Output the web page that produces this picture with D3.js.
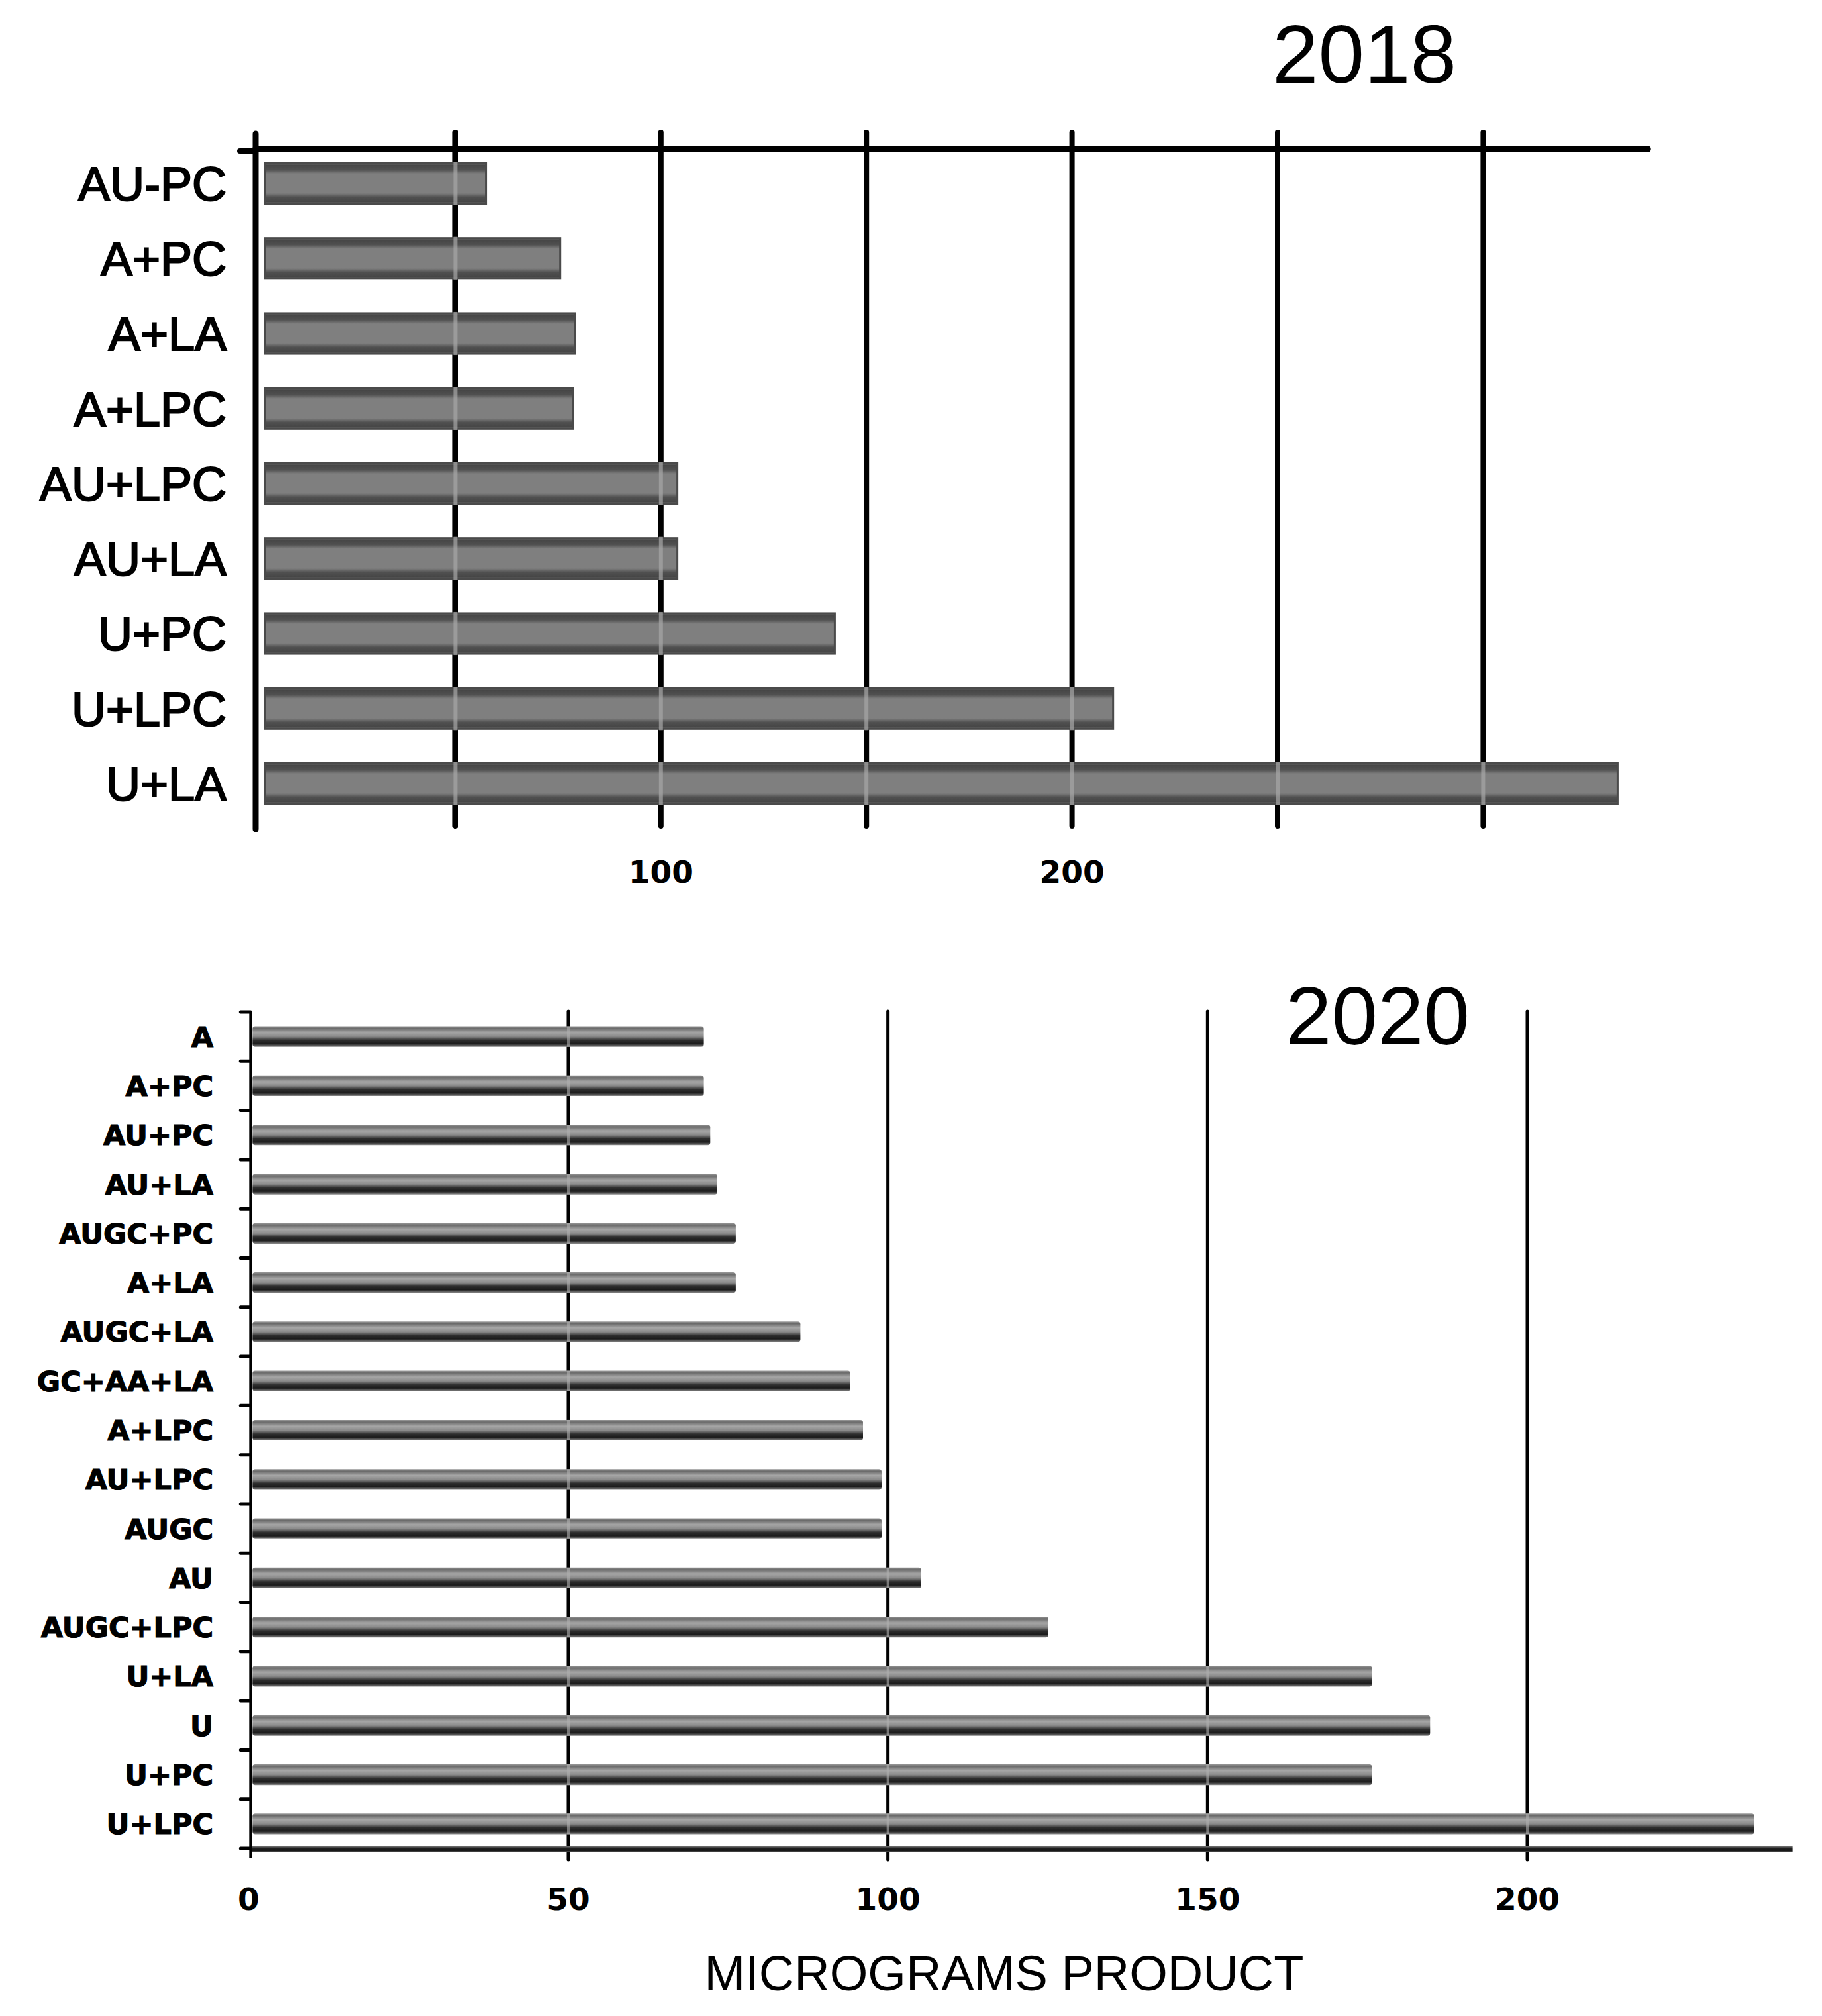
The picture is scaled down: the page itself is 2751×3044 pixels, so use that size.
<!DOCTYPE html>
<html>
<head>
<meta charset="utf-8">
<script src="https://cdn.jsdelivr.net/npm/d3@7"></script>
<style>
  html, body { margin: 0; padding: 0; background: #fff; }
  svg { display: block; }
</style>
</head>
<body>
<script>
// ---------- DATA ----------
const cats2018 = ["AU-PC","A+PC","A+LA","A+LPC","AU+LPC","AU+LA","U+PC","U+LPC","U+LA"];
const vals2018 = [57.6, 75.5, 79.1, 78.6, 104, 104, 142.3, 210, 332.7];
const grid2018 = [50, 100, 150, 200, 250, 300];
const tickLabels2018 = [100, 200];

const cats2020 = ["A","A+PC","AU+PC","AU+LA","AUGC+PC","A+LA","AUGC+LA","GC+AA+LA","A+LPC",
                  "AU+LPC","AUGC","AU","AUGC+LPC","U+LA","U","U+PC","U+LPC"];
const vals2020 = [71.2, 71.2, 72.2, 73.3, 76.2, 76.2, 86.3, 94.1, 96.1,
                  99.0, 99.0, 105.2, 125.1, 175.7, 184.8, 175.7, 235.5];
const grid2020 = [50, 100, 150, 200];
const tickLabels2020 = [0, 50, 100, 150, 200];
const title2018 = "2018", title2020 = "2020", xTitle = "MICROGRAMS PRODUCT";

// ---------- SETUP ----------
const W = 2751, H = 3044;
const svg = d3.select("body").append("svg").attr("width", W).attr("height", H);
svg.append("rect").attr("width", W).attr("height", H).attr("fill", "#fff");

const defs = svg.append("defs");
const g1 = defs.append("linearGradient").attr("id","barTop").attr("x1",0).attr("y1",0).attr("x2",0).attr("y2",1);
[[0,"#707070"],[0.05,"#464646"],[0.16,"#505050"],[0.26,"#7f7f7f"],[0.74,"#7f7f7f"],[0.84,"#505050"],[0.95,"#464646"],[1,"#707070"]]
  .forEach(([o,c]) => g1.append("stop").attr("offset",o).attr("stop-color",c));
const g2 = defs.append("linearGradient").attr("id","barBot").attr("x1",0).attr("y1",0).attr("x2",0).attr("y2",1);
[[0,"#9a9a9a"],[0.1,"#6a6a6a"],[0.3,"#a6a6a6"],[0.5,"#8a8a8a"],[0.68,"#2e2e2e"],[0.85,"#1c1c1c"],[1,"#8a8a8a"]]
  .forEach(([o,c]) => g2.append("stop").attr("offset",o).attr("stop-color",c));
const g3 = defs.append("linearGradient").attr("id","axisBot").attr("x1",0).attr("y1",0).attr("x2",0).attr("y2",1);
[[0,"#777"],[0.3,"#222"],[0.7,"#111"],[1,"#777"]]
  .forEach(([o,c]) => g3.append("stop").attr("offset",o).attr("stop-color",c));

// ---------- 2018 CHART ----------
const xT = d3.scaleLinear().domain([0, 300]).range([377, 2239.4]);
const yT = d3.scalePoint().domain(cats2018).range([277, 1183]);
const barHT = yT.step() * 0.54;
const axisXT = xT(0) + 9;
const barStartT = xT(0) + 23;

const gTop = svg.append("g");
// gridlines
gTop.selectAll(".grid").data(grid2018).join("line")
  .attr("x1", d => xT(d)).attr("x2", d => xT(d))
  .attr("y1", 200).attr("y2", 1247)
  .attr("stroke", "#000").attr("stroke-width", 8).attr("stroke-linecap","round");
// top horizontal line
gTop.append("line").attr("x1", axisXT).attr("x2", xT(340)).attr("y1", 225).attr("y2", 225)
  .attr("stroke", "#000").attr("stroke-width", 10).attr("stroke-linecap","round");
// left axis
gTop.append("line").attr("x1", axisXT).attr("x2", axisXT).attr("y1", 202).attr("y2", 1252)
  .attr("stroke", "#000").attr("stroke-width", 9).attr("stroke-linecap","round");
gTop.append("line").attr("x1", axisXT - 24).attr("x2", axisXT).attr("y1", 228).attr("y2", 228)
  .attr("stroke", "#000").attr("stroke-width", 8).attr("stroke-linecap","round");
// bars
gTop.selectAll(".bar").data(cats2018).join("rect")
  .attr("x", barStartT)
  .attr("y", d => yT(d) - barHT / 2)
  .attr("width", (d, i) => xT(vals2018[i]) - barStartT)
  .attr("height", barHT)
  .attr("fill", "url(#barTop)")
  .attr("stroke", "#4a4a4a").attr("stroke-width", 3);
// light notches where gridlines pass behind bars
cats2018.forEach((c, i) => {
  grid2018.filter(g => g < vals2018[i] - 2).forEach(g => {
    gTop.append("line").attr("x1", xT(g)).attr("x2", xT(g))
      .attr("y1", yT(c) - barHT / 2 - 2).attr("y2", yT(c) + barHT / 2 + 2)
      .attr("stroke", "#a8a8a8").attr("stroke-width", 6).attr("opacity", 0.7);
  });
});
// category labels
gTop.selectAll(".lab").data(cats2018).join("text")
  .attr("x", 342).attr("y", d => yT(d)).attr("dy", "0.36em")
  .attr("text-anchor", "end")
  .attr("font-family", "Liberation Sans, Arial, sans-serif")
  .attr("font-size", 72).attr("fill", "#000")
  .attr("stroke", "#000").attr("stroke-width", 2.2)
  .text(d => d);
// tick labels
gTop.selectAll(".tl").data(tickLabels2018).join("text")
  .attr("x", d => xT(d)).attr("y", 1333)
  .attr("text-anchor", "middle")
  .attr("font-family", "DejaVu Sans, sans-serif").attr("font-weight", "bold")
  .attr("font-size", 47).attr("fill", "#000")
  .text(d => d);
// title
gTop.append("text").attr("x", 2060).attr("y", 125).attr("text-anchor", "middle")
  .attr("font-family", "Liberation Sans, Arial, sans-serif").attr("font-size", 125)
  .attr("fill", "#000").text(title2018);

// ---------- 2020 CHART ----------
const xB = d3.scaleLinear().domain([0, 200]).range([375.3, 2306]);
const yB = d3.scaleBand().domain(cats2020).range([1528, 2791]).padding(0);
const barHB = yB.bandwidth() * 0.42;
const axisXB = xB(0) + 3;
const barStartB = xB(0) + 6;

const gBot = svg.append("g");
// gridlines
gBot.selectAll(".grid").data(grid2020).join("line")
  .attr("x1", d => xB(d)).attr("x2", d => xB(d))
  .attr("y1", 1527).attr("y2", 2808)
  .attr("stroke", "#000").attr("stroke-width", 5).attr("stroke-linecap","round");
// bars
gBot.selectAll(".bar").data(cats2020).join("rect")
  .attr("x", barStartB)
  .attr("y", d => yB(d) + yB.bandwidth() / 2 - barHB / 2)
  .attr("width", (d, i) => xB(vals2020[i]) - barStartB)
  .attr("height", barHB)
  .attr("rx", 4)
  .attr("fill", "url(#barBot)");
// notches
cats2020.forEach((c, i) => {
  grid2020.filter(g => g < vals2020[i] - 2).forEach(g => {
    gBot.append("line").attr("x1", xB(g)).attr("x2", xB(g))
      .attr("y1", yB(c) + yB.bandwidth() / 2 - barHB / 2).attr("y2", yB(c) + yB.bandwidth() / 2 + barHB / 2)
      .attr("stroke", "#b0b0b0").attr("stroke-width", 4).attr("opacity", 0.6);
  });
});
// bottom axis line (bar-like)
gBot.append("rect").attr("x", axisXB).attr("y", 2788).attr("width", xB(241.5) - axisXB).attr("height", 9)
  .attr("fill", "url(#axisBot)");
// left axis
gBot.append("line").attr("x1", axisXB).attr("x2", axisXB).attr("y1", 1526).attr("y2", 2806)
  .attr("stroke", "#000").attr("stroke-width", 4);
const bounds = cats2020.map(c => yB(c)).concat([yB.range()[1]]);
gBot.selectAll(".ltick").data(bounds).join("line")
  .attr("x1", axisXB - 15).attr("x2", axisXB)
  .attr("y1", d => d).attr("y2", d => d)
  .attr("stroke", "#000").attr("stroke-width", 5).attr("stroke-linecap","round");
// category labels
gBot.selectAll(".lab").data(cats2020).join("text")
  .attr("x", 322).attr("y", d => yB(d) + yB.bandwidth() / 2).attr("dy", "0.36em")
  .attr("text-anchor", "end")
  .attr("font-family", "DejaVu Sans, sans-serif").attr("font-weight", "bold")
  .attr("font-size", 43).attr("fill", "#000")
  .attr("stroke", "#000").attr("stroke-width", 1.2)
  .text(d => d);
// tick labels
gBot.selectAll(".tl").data(tickLabels2020).join("text")
  .attr("x", d => xB(d)).attr("y", 2884)
  .attr("text-anchor", "middle")
  .attr("font-family", "DejaVu Sans, sans-serif").attr("font-weight", "bold")
  .attr("font-size", 47).attr("fill", "#000")
  .text(d => d);
// title
gBot.append("text").attr("x", 2080).attr("y", 1577).attr("text-anchor", "middle")
  .attr("font-family", "Liberation Sans, Arial, sans-serif").attr("font-size", 125)
  .attr("fill", "#000").text(title2020);
// x-axis title
gBot.append("text").attr("x", 1516).attr("y", 3005).attr("text-anchor", "middle")
  .attr("font-family", "Liberation Sans, Arial, sans-serif").attr("font-size", 75)
  .attr("textLength", 905).attr("lengthAdjust", "spacingAndGlyphs")
  .attr("fill", "#000").text(xTitle);
</script>
</body>
</html>
